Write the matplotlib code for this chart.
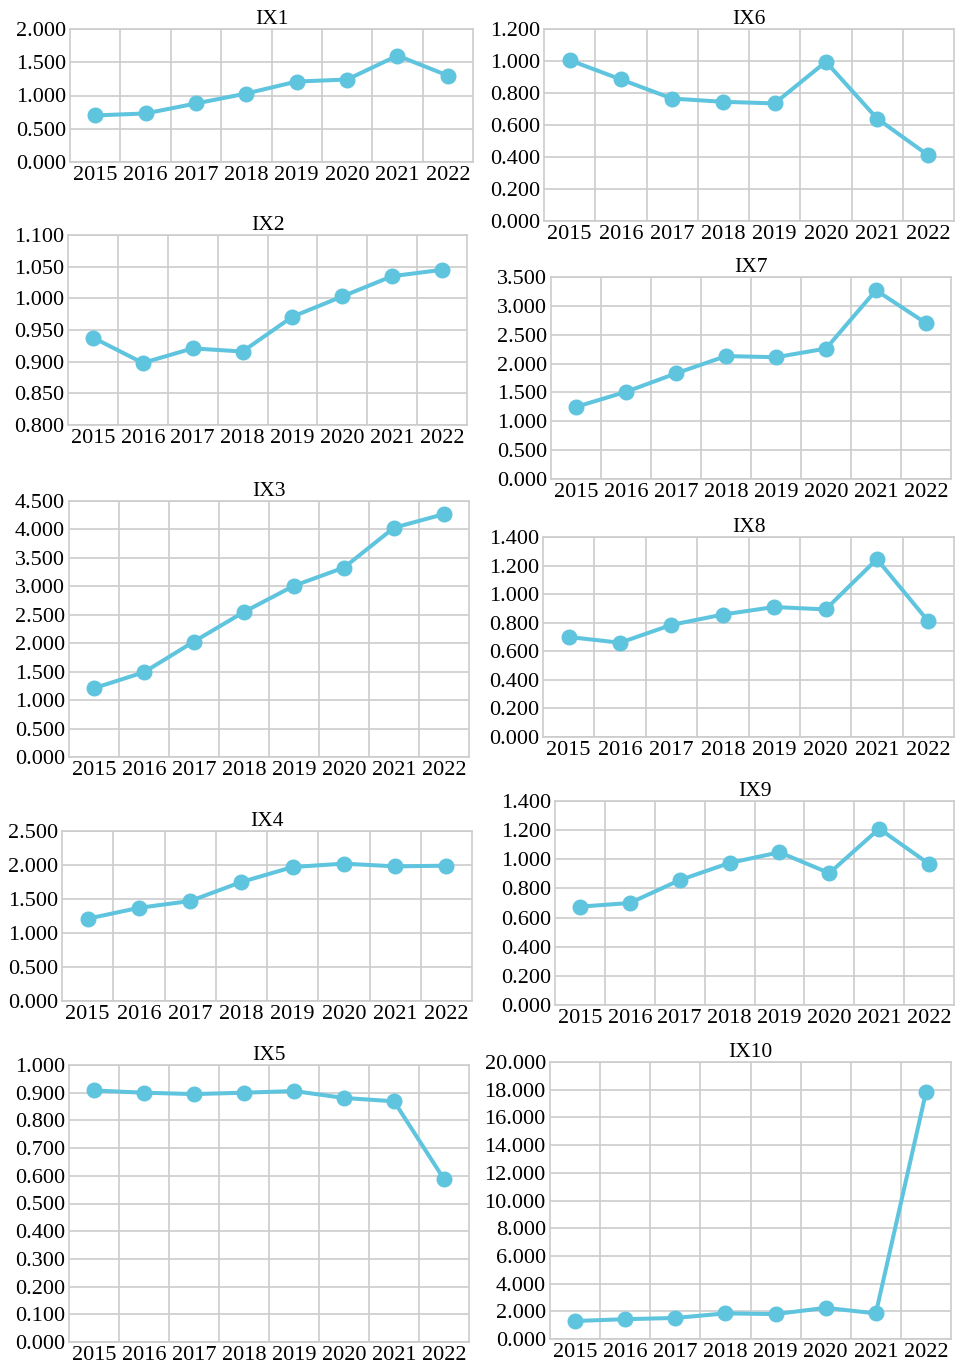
import numpy as np
import matplotlib
matplotlib.use('Agg')
import matplotlib.pyplot as plt
from matplotlib.ticker import MultipleLocator, FormatStrFormatter

plt.rcParams['font.family'] = ['Liberation Serif', 'DejaVu Serif']

years = ['2015', '2016', '2017', '2018', '2019', '2020', '2021', '2022']

ix1 = [0.700, 0.730, 0.880, 1.030, 1.210, 1.240, 1.600, 1.300]
ix2 = [0.938, 0.898, 0.921, 0.916, 0.971, 1.003, 1.035, 1.045]
ix3 = [1.210, 1.490, 2.030, 2.550, 3.010, 3.330, 4.030, 4.270]
ix4 = [1.210, 1.370, 1.470, 1.750, 1.970, 2.020, 1.980, 1.990]
ix5 = [0.908, 0.900, 0.895, 0.900, 0.906, 0.881, 0.869, 0.588]
ix6 = [1.005, 0.885, 0.765, 0.745, 0.735, 0.995, 0.640, 0.410]
ix7 = [1.250, 1.510, 1.830, 2.130, 2.110, 2.260, 3.270, 2.700]
ix8 = [0.700, 0.660, 0.785, 0.857, 0.910, 0.893, 1.245, 0.810]
ix9 = [0.675, 0.700, 0.857, 0.975, 1.048, 0.905, 1.210, 0.968]
ix10 = [1.300, 1.430, 1.520, 1.850, 1.800, 2.250, 1.850, 17.800]

names = ['IX1', 'IX2', 'IX3', 'IX4', 'IX5', 'IX6', 'IX7', 'IX8', 'IX9', 'IX10']
series = [ix1, ix2, ix3, ix4, ix5, ix6, ix7, ix8, ix9, ix10]

# y axis (min, max, step) per panel
yaxes = [(0, 2.0, 0.5), (0.8, 1.1, 0.05), (0, 4.5, 0.5), (0, 2.5, 0.5), (0, 1.0, 0.1),
         (0, 1.2, 0.2), (0, 3.5, 0.5), (0, 1.4, 0.2), (0, 1.4, 0.2), (0, 20.0, 2.0)]

# plot area in pixels: left, right, top, bottom
boxes = [(70, 473, 29, 162), (68, 467, 235, 425), (69, 469, 501, 757),
         (62, 472, 831, 1001), (69, 469, 1065, 1342),
         (544, 954, 29, 221), (551, 951, 277, 479), (543, 954, 537, 737),
         (555, 954, 801, 1005), (550, 951, 1062, 1339)]

W, H = 955, 1368
fig = plt.figure(figsize=(W / 100, H / 100), dpi=100)

color = '#5fc4de'
gridc = '#cccccc'
x = np.arange(len(years))

for name, vals, (ymin, ymax, step), (l, r, t, b) in zip(names, series, yaxes, boxes):
    ax = fig.add_axes([l / W, 1 - b / H, (r - l) / W, (b - t) / H])
    ax.plot(x, vals, color=color, lw=2.9, marker='o', ms=10.5, zorder=3, clip_on=False)
    ax.set_xlim(-0.5, len(years) - 0.5)
    ax.set_ylim(ymin, ymax)
    ax.yaxis.set_major_locator(MultipleLocator(step))
    ax.yaxis.set_major_formatter(FormatStrFormatter('%.3f'))
    ax.set_xticks(x)
    ax.set_xticklabels(years)
    ax.set_xticks(np.arange(0.5, len(years) - 0.5), minor=True)
    ax.grid(True, which='major', axis='y', color=gridc, lw=1.2)
    ax.grid(True, which='minor', axis='x', color=gridc, lw=1.2)
    ax.set_axisbelow(True)
    ax.tick_params(axis='both', which='both', length=0, labelsize=16)
    ax.tick_params(axis='y', pad=3)
    ax.tick_params(axis='x', pad=3)
    for s in ax.spines.values():
        s.set_color(gridc)
        s.set_linewidth(1.2)
    ax.set_title(name, fontsize=15.5, pad=3)

fig.savefig('out.png', dpi=100)
